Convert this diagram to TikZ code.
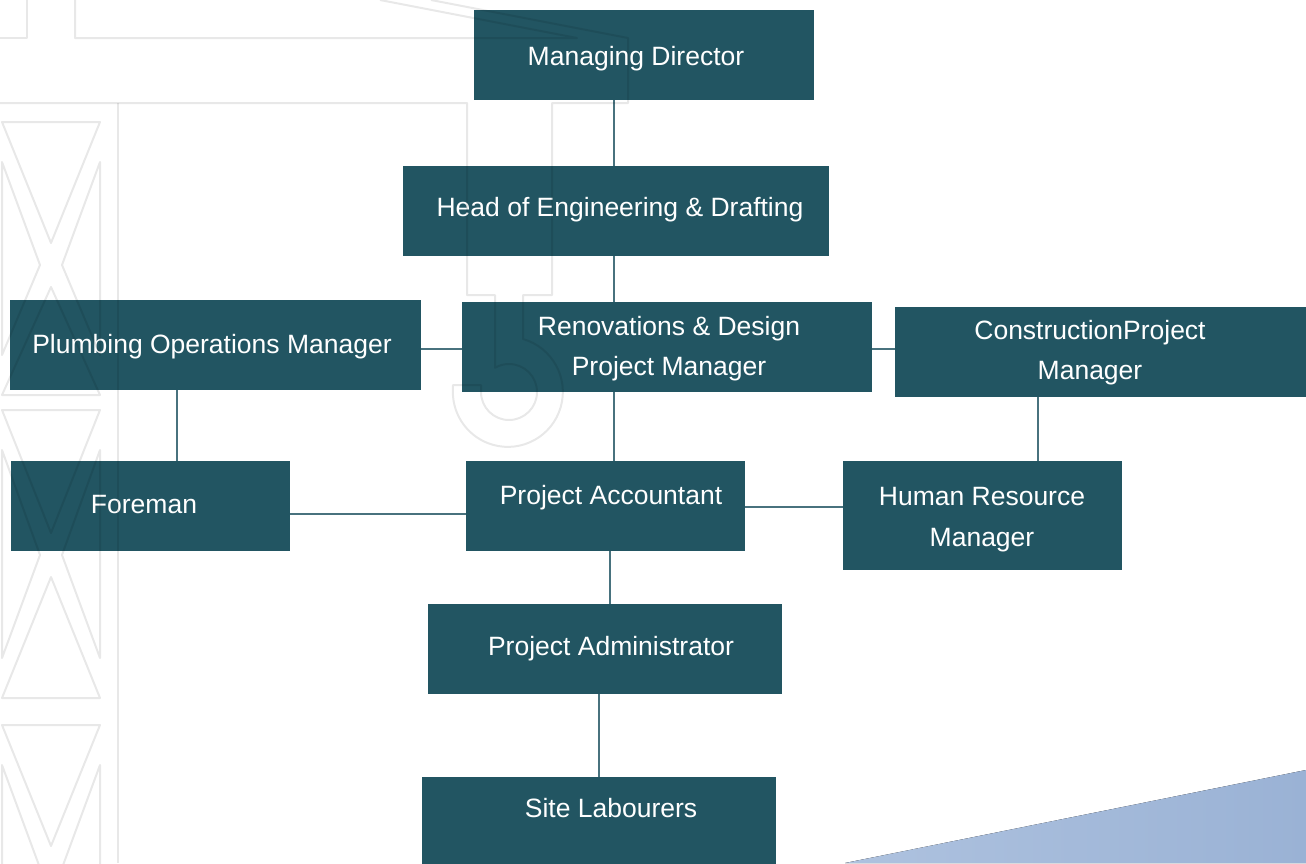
\documentclass[tikz,border=0pt]{standalone}
\usepackage{fontspec}
\setmainfont{Liberation Sans}
\usepackage{tikz}
\definecolor{boxteal}{RGB}{34,85,98}
\definecolor{linkteal}{RGB}{72,114,126}
\definecolor{skyleft}{RGB}{174,194,223}
\definecolor{skyright}{RGB}{154,178,213}
\tikzstyle{unit}=[rectangle,fill=boxteal,draw=none,inner sep=0pt]
\tikzstyle{unittext}=[text=white,inner sep=0pt,align=center,font=\fontsize{26.5}{40.5}\selectfont]
\tikzstyle{link}=[-,draw=linkteal,line width=1.3pt]
\tikzstyle{ghost}=[-,draw=black,draw opacity=0.09,line width=2pt,line join=round]
\pgfdeclarelayer{backlayer}
\pgfdeclarelayer{edgelayer}
\pgfdeclarelayer{nodelayer}
\pgfsetlayers{backlayer,edgelayer,nodelayer,main}

\begin{document}
\begin{tikzpicture}[x=1pt,y=-1pt]
	\useasboundingbox (0,0) rectangle (1306,863);
	\begin{pgfonlayer}{backlayer}
		\fill [left color=skyleft,right color=skyright] (845,863) -- (1306,770) -- (1306,863) -- cycle;
	\end{pgfonlayer}
	\begin{pgfonlayer}{nodelayer}
		\node [style=unit, minimum width=340pt, minimum height=90pt] (md) at (644, 55) {};
		\node [style=unit, minimum width=426pt, minimum height=90pt] (hoe) at (616, 211) {};
		\node [style=unit, minimum width=411pt, minimum height=90pt] (plumb) at (215.5, 345) {};
		\node [style=unit, minimum width=410pt, minimum height=90pt] (ren) at (667, 347) {};
		\node [style=unit, minimum width=411pt, minimum height=90pt] (cons) at (1100.5, 352) {};
		\node [style=unit, minimum width=279pt, minimum height=90pt] (fore) at (150.5, 506) {};
		\node [style=unit, minimum width=279pt, minimum height=90pt] (pa) at (605.5, 506) {};
		\node [style=unit, minimum width=279pt, minimum height=109pt] (hr) at (982.5, 515.5) {};
		\node [style=unit, minimum width=354pt, minimum height=90pt] (padm) at (605, 649) {};
		\node [style=unit, minimum width=354pt, minimum height=90pt] (site) at (599, 822) {};

		\node [style=unittext] (mdt) at (636, 58.3) {Managing Director};
		\node [style=unittext] (hoet) at (620, 210) {Head of Engineering \& Drafting};
		\node [style=unittext] (plumbt) at (212, 346.5) {Plumbing Operations Manager};
		\node [style=unittext] (rent) at (669, 348.5) {Renovations \& Design\\Project Manager};
		\node [style=unittext] (const) at (1090, 352.5) {ConstructionProject\\Manager};
		\node [style=unittext] (foret) at (144, 504.5) {Foreman};
		\node [style=unittext] (pat) at (611, 497.3) {Project Accountant};
		\node [style=unittext] (hrt) at (982, 519.5) {Human Resource\\Manager};
		\node [style=unittext] (padmt) at (611, 648.3) {Project Administrator};
		\node [style=unittext] (sitet) at (611, 808) {Site Labourers};
	\end{pgfonlayer}
	\begin{pgfonlayer}{edgelayer}
		\draw [style=link] ([xshift=-30pt]md.south) to ([xshift=-2pt]hoe.north);
		\draw [style=link] ([xshift=-2pt]hoe.south) to ([xshift=-53pt]ren.north);
		\draw [style=link] ([yshift=-4pt]plumb.east) to ([yshift=-2pt]ren.west);
		\draw [style=link] ([yshift=-2pt]ren.east) to ([yshift=3pt]cons.west);
		\draw [style=link] ([xshift=-38.5pt]plumb.south) to ([xshift=26.5pt]fore.north);
		\draw [style=link] ([xshift=-53pt]ren.south) to ([xshift=8.5pt]pa.north);
		\draw [style=link] ([yshift=-8pt]fore.east) to ([yshift=-8pt]pa.west);
		\draw [style=link] ([yshift=-1pt]pa.east) to ([yshift=8.5pt]hr.west);
		\draw [style=link] ([xshift=-62.5pt]cons.south) to ([xshift=55.5pt]hr.north);
		\draw [style=link] ([xshift=4.5pt]pa.south) to ([xshift=5pt]padm.north);
		\draw [style=link] ([xshift=-6pt]padm.south) to (site.north);
	\end{pgfonlayer}
	% faint crane watermark
	\draw [style=ghost] (0,38) -- (27,38) -- (27,0);
	\draw [style=ghost] (75,0) -- (75,38) -- (577,38) -- (380,0);
	\draw [style=ghost] (431,0) -- (628,38) -- (628,103) -- (552,103) -- (552,295) -- (523,295) -- (523,339)
		arc [start angle=-74, end angle=180, radius=55] -- (453,385) -- (481,385) -- (481,392)
		arc [start angle=180, end angle=-120, radius=28] -- (495,295) -- (467,295) -- (467,103) -- (0,103);
	\draw [style=ghost] (118,103) -- (118,863);
	\foreach \t/\c/\b in {122/265/395, 410/555/698, 725/868/1011} {
		\draw [style=ghost] (2,\t) -- (100,\t) -- (51,{\c-22}) -- cycle;
		\draw [style=ghost] (2,\b) -- (100,\b) -- (51,{\c+22}) -- cycle;
		\draw [style=ghost] (2,{\t+40}) -- (40,\c) -- (2,{\b-40}) -- cycle;
		\draw [style=ghost] (100,{\t+40}) -- (62,\c) -- (100,{\b-40}) -- cycle;
	}
\end{tikzpicture}
\end{document}
